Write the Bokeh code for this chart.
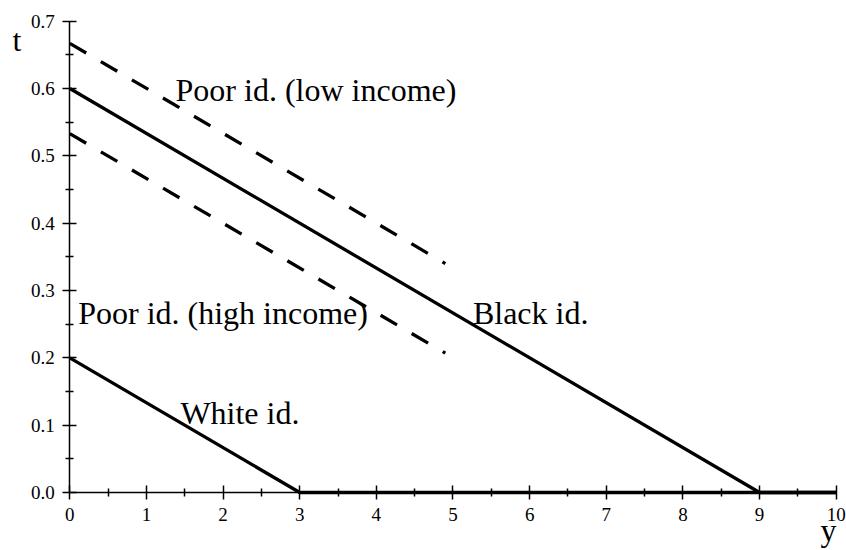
from bokeh.plotting import figure
from bokeh.models import Range1d, LinearAxis, FixedTicker, Label, NumeralTickFormatter
from bokeh.embed import file_html
from bokeh.resources import INLINE

# ---- data ----
white_x = [0, 3, 10]
white_t = [0.2, 0.0, 0.0]
black_x = [0, 9, 10]
black_t = [0.6, 0.0, 0.0]
poor_low_x = [0, 4.9]
poor_low_t = [0.667, 0.34]
poor_high_x = [0, 4.9]
poor_high_t = [0.533, 0.207]

x_ticks = [0, 1, 2, 3, 4, 5, 6, 7, 8, 9, 10]
x_minor = [0.5, 1.5, 2.5, 3.5, 4.5, 5.5, 6.5, 7.5, 8.5, 9.5]
y_ticks = [0.0, 0.1, 0.2, 0.3, 0.4, 0.5, 0.6, 0.7]
y_minor = [0.05, 0.15, 0.25, 0.35, 0.45, 0.55, 0.65]

labels = ["Poor id. (low income)", "Poor id. (high income)", "Black id.", "White id."]
label_x = [1.38, 0.11, 5.26, 1.443]
label_t = [0.598, 0.267, 0.267, 0.118]

axis_names = ["t", "y"]
axis_name_x = [-0.748, 9.794]
axis_name_t = [0.672, -0.056]

FONT = "Liberation Serif"

p = figure(width=846, height=550, output_backend="svg", toolbar_location=None,
           x_range=Range1d(-0.9042, 10.1344), y_range=Range1d(-0.08614, 0.73074),
           x_axis_location=None, y_axis_location=None,
           min_border_left=0, min_border_right=0, min_border_top=0, min_border_bottom=0)
p.outline_line_color = None
p.xgrid.visible = False
p.ygrid.visible = False
p.background_fill_color = "white"
p.border_fill_color = "white"

xaxis = LinearAxis(fixed_location=0, bounds=(0, 10),
                   ticker=FixedTicker(ticks=x_ticks, minor_ticks=x_minor))
yaxis = LinearAxis(fixed_location=0, bounds=(0, 0.7),
                   ticker=FixedTicker(ticks=y_ticks, minor_ticks=y_minor))
yaxis.formatter = NumeralTickFormatter(format="0.0")
for ax in (xaxis, yaxis):
    ax.axis_line_width = 1.5
    ax.axis_line_color = "black"
    ax.major_tick_line_width = 1.5
    ax.minor_tick_line_width = 1.5
    ax.major_tick_line_color = "black"
    ax.minor_tick_line_color = "black"
    ax.major_tick_in = 7
    ax.major_tick_out = 7
    ax.minor_tick_in = 4
    ax.minor_tick_out = 4
    ax.major_label_text_font = FONT
    ax.major_label_text_font_size = "19px"
    ax.major_label_text_color = "black"
    ax.major_label_standoff = 8
p.add_layout(xaxis, "below")
p.add_layout(yaxis, "left")

p.line(white_x, white_t, line_color="black", line_width=3.3)
p.line(black_x, black_t, line_color="black", line_width=3.3)
p.line(poor_low_x, poor_low_t, line_color="black", line_width=3.3, line_dash="19 17")
p.line(poor_high_x, poor_high_t, line_color="black", line_width=3.3, line_dash="19 17")

for txt, lx, lt in zip(labels + axis_names, label_x + axis_name_x, label_t + axis_name_t):
    p.add_layout(Label(x=lx, y=lt, text=txt, text_font=FONT, text_font_size="32px",
                       text_color="black", text_baseline="alphabetic", text_align="left"))

open("out.html", "w").write(file_html(p, INLINE))
